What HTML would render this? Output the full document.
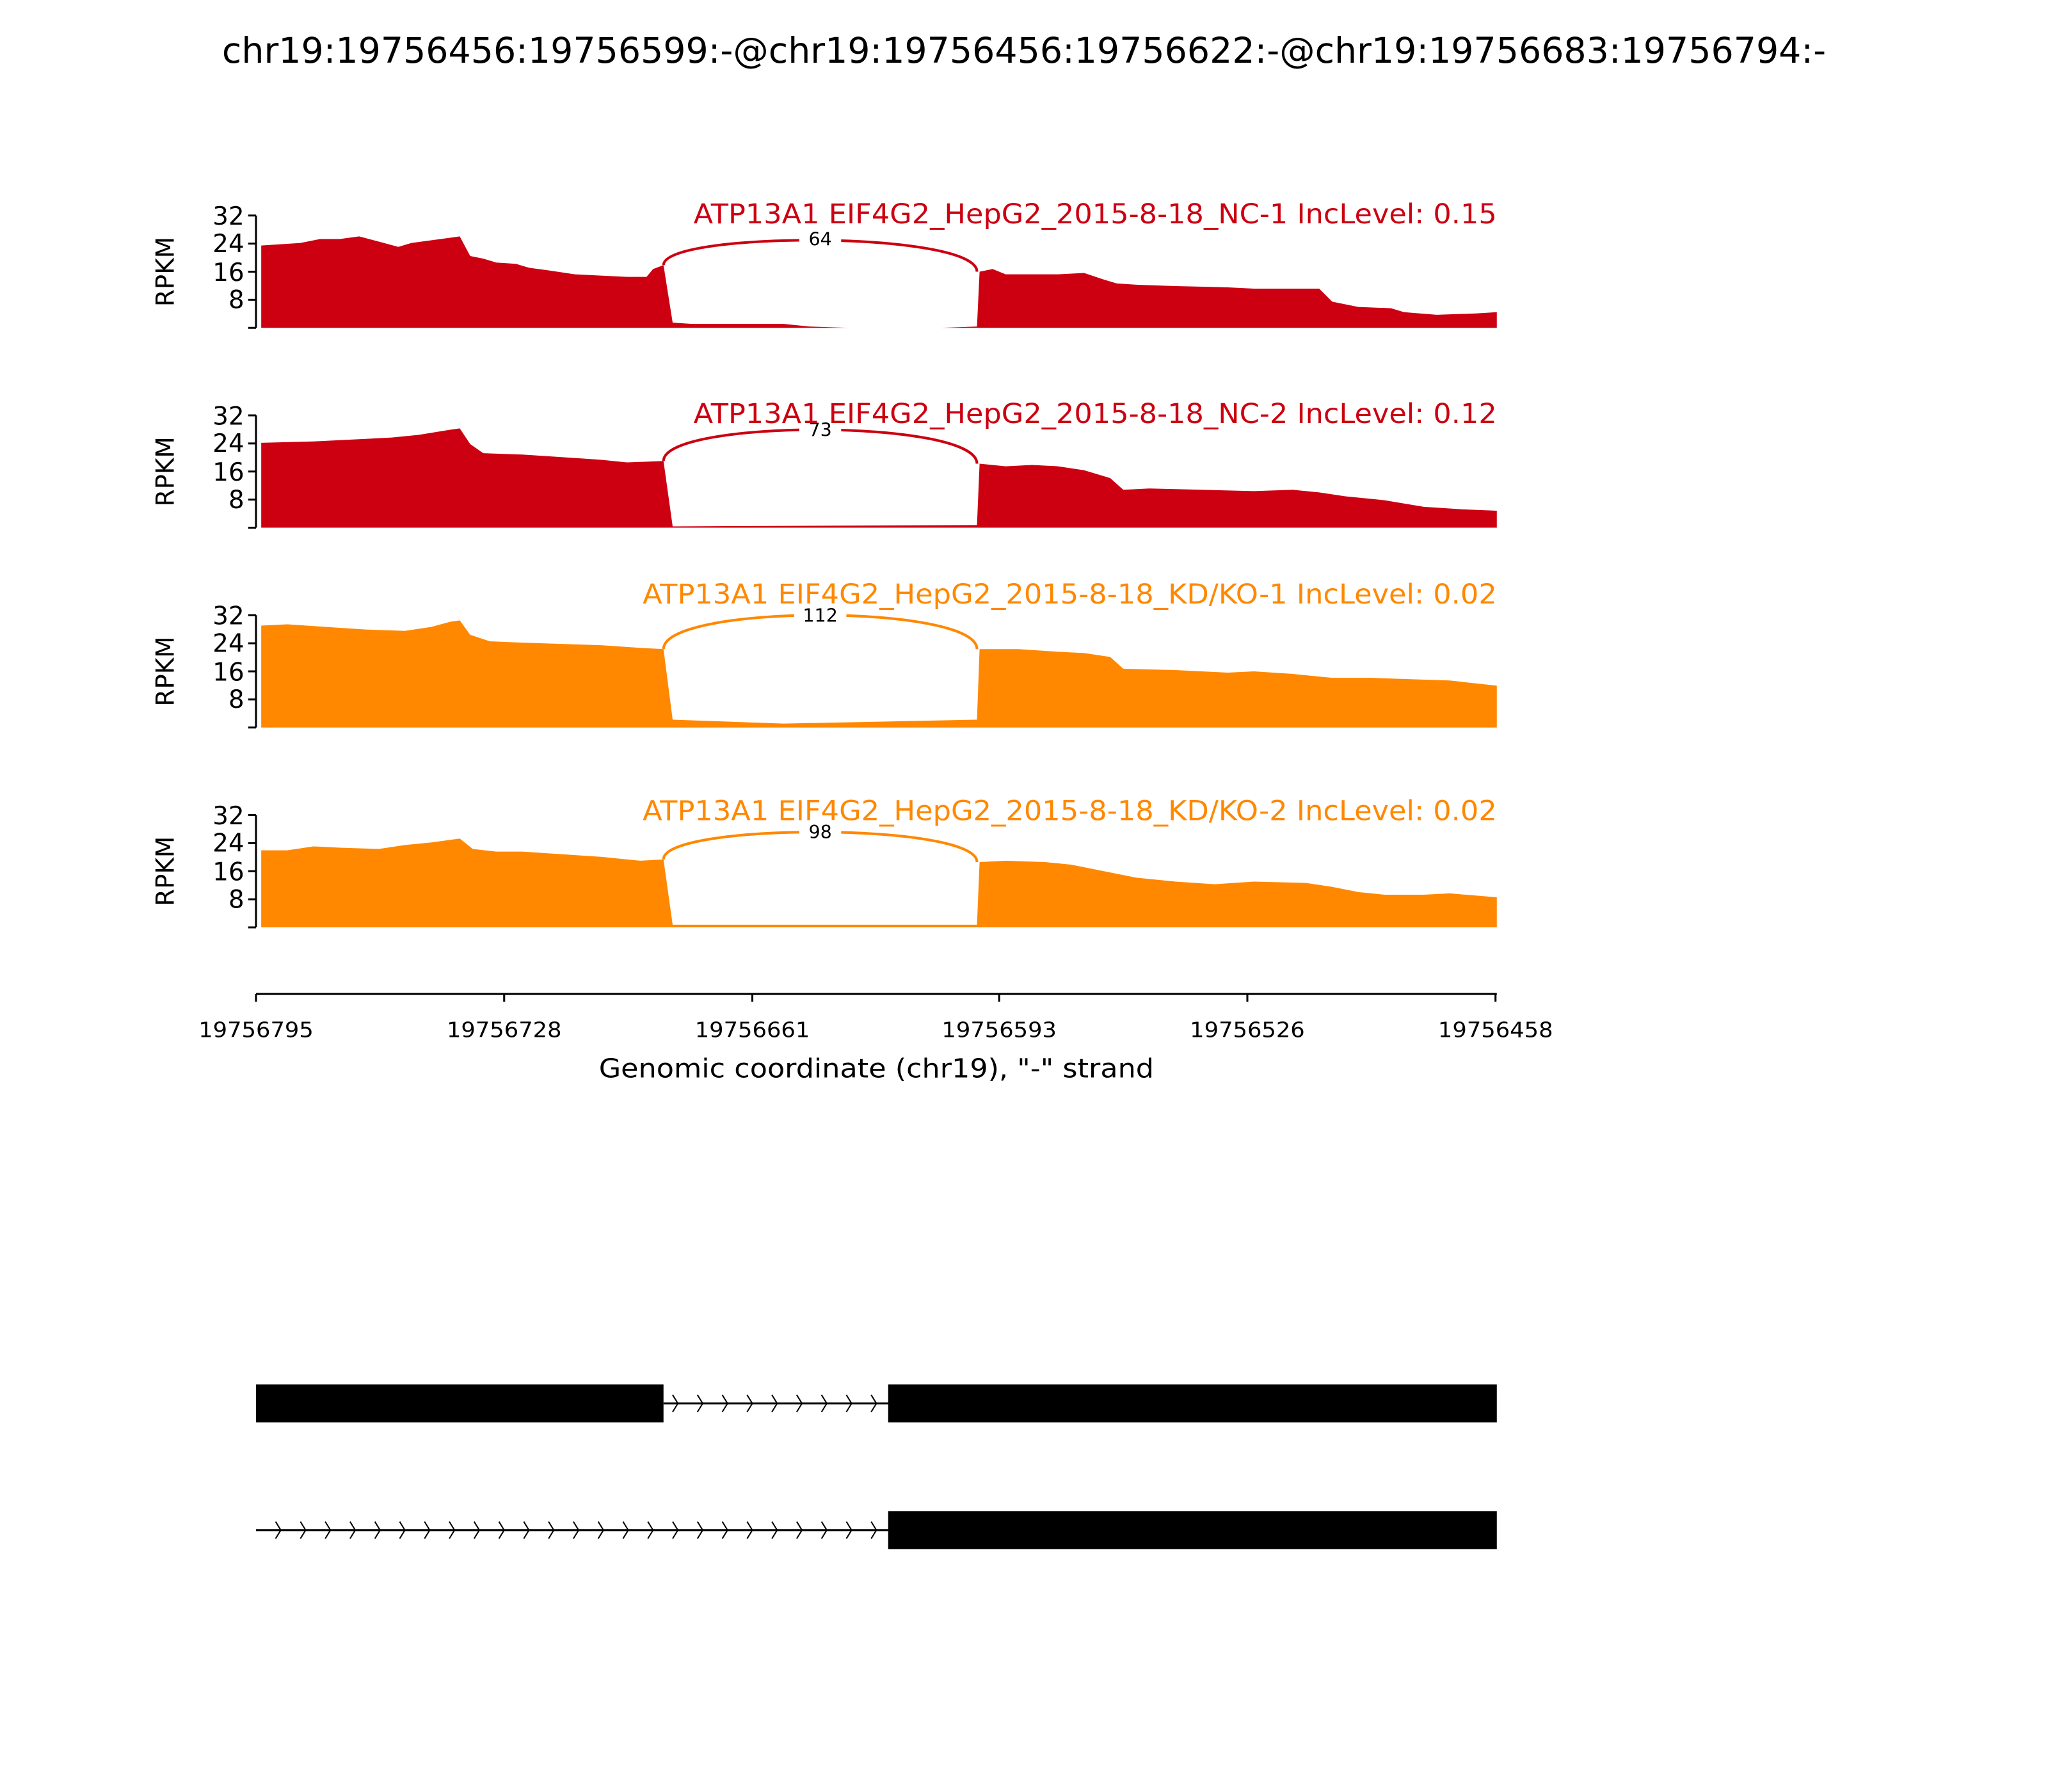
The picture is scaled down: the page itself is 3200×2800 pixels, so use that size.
<!DOCTYPE html>
<html><head><meta charset="utf-8"><style>body{margin:0;background:#fff}svg{display:block}text{font-family:"DejaVu Sans","Liberation Sans",sans-serif}</style></head>
<body>
<svg width="3200" height="2800" viewBox="0 0 1568 1372" xmlns="http://www.w3.org/2000/svg">
<rect width="1568" height="1372" fill="#fff"/>
<text x="784" y="48" font-size="27" text-anchor="middle" textLength="1228" lengthAdjust="spacingAndGlyphs">chr19:19756456:19756599:-@chr19:19756456:19756622:-@chr19:19756683:19756794:-</text>

<!-- Panel 1 -->
<g>
<polygon fill="#cc0011" points="200,251 200,188 215,187 230,186 245,183 260,183 275,181 290,185 305,189 315,186 330,184 345,182 352,181 360,196 370,198 380,201 395,202 405,205 420,207 440,210 460,211 480,212 495,212 500,206 508,203 515,247 530,248 600,248 620,250 650,251 720,251 748,250 750,208 760,206 770,210 790,210 810,210 830,209 845,214 855,217 870,218 900,219 940,220 960,221 980,221 1010,221 1020,231 1040,235 1065,236 1075,239 1100,241 1130,240 1146,239 1146,251"/>
<path d="M508,203 C508,176.8 748,176.8 748,208" fill="none" stroke="#cc0011" stroke-width="2"/>
<rect x="612" y="175" width="32" height="16" fill="#fff"/>
<text x="628" y="188" font-size="14" text-anchor="middle">64</text>
<text x="1146" y="171" font-size="21" fill="#cc0011" text-anchor="end" textLength="615" lengthAdjust="spacingAndGlyphs">ATP13A1 EIF4G2_HepG2_2015-8-18_NC-1 IncLevel: 0.15</text>
</g>
<!-- Panel 2 -->
<g>
<polygon fill="#cc0011" points="200,404 200,339 240,338 260,337 280,336 300,335 320,333 345,329 352,328 360,340 370,347 400,348 430,350 460,352 480,354 508,353 515,403 748,402 750,355 770,357 790,356 810,357 830,360 850,366 860,375 880,374 920,375 960,376 990,375 1010,377 1030,380 1060,383 1090,388 1120,390 1146,391 1146,404"/>
<path d="M508,353 C508,320.7 748,320.7 748,355" fill="none" stroke="#cc0011" stroke-width="2"/>
<rect x="612" y="321" width="32" height="16" fill="#fff"/>
<text x="628" y="334" font-size="14" text-anchor="middle">73</text>
<text x="1146" y="324" font-size="21" fill="#cc0011" text-anchor="end" textLength="615" lengthAdjust="spacingAndGlyphs">ATP13A1 EIF4G2_HepG2_2015-8-18_NC-2 IncLevel: 0.12</text>
</g>
<!-- Panel 3 -->
<g>
<polygon fill="#ff8800" points="200,557 200,479 220,478 250,480 280,482 310,483 330,480 345,476 352,475 360,486 375,491 400,492 430,493 460,494 490,496 508,497 515,551 600,554 748,551 750,497 780,497 810,499 830,500 850,503 860,512 900,513 940,515 960,514 990,516 1020,519 1050,519 1080,520 1110,521 1146,525 1146,557"/>
<path d="M508,497 C508,462.3 748,462.3 748,497" fill="none" stroke="#ff8800" stroke-width="2"/>
<rect x="608" y="463" width="40" height="16" fill="#fff"/>
<text x="628" y="476" font-size="14" text-anchor="middle">112</text>
<text x="1146" y="462" font-size="21" fill="#ff8800" text-anchor="end" textLength="654" lengthAdjust="spacingAndGlyphs">ATP13A1 EIF4G2_HepG2_2015-8-18_KD/KO-1 IncLevel: 0.02</text>
</g>
<!-- Panel 4 -->
<g>
<polygon fill="#ff8800" points="200,710 200,651 220,651 240,648 260,649 290,650 310,647 330,645 352,642 362,650 380,652 400,652 430,654 460,656 490,659 508,658 515,708 748,708 750,660 770,659 800,660 820,662 840,666 870,672 900,675 930,677 960,675 1000,676 1020,679 1040,683 1060,685 1090,685 1110,684 1146,687 1146,710"/>
<path d="M508,658 C508,629.7 748,629.7 748,660" fill="none" stroke="#ff8800" stroke-width="2"/>
<rect x="612" y="629" width="32" height="16" fill="#fff"/>
<text x="628" y="642" font-size="14" text-anchor="middle">98</text>
<text x="1146" y="628" font-size="21" fill="#ff8800" text-anchor="end" textLength="654" lengthAdjust="spacingAndGlyphs">ATP13A1 EIF4G2_HepG2_2015-8-18_KD/KO-2 IncLevel: 0.02</text>
</g>

<!-- y axes -->
<g stroke="#000" stroke-width="1.5" fill="none">
<path d="M196,165V251M190,165H196M190,186.5H196M190,208H196M190,229.5H196M190,251H196"/>
<path d="M196,318V404M190,318H196M190,339.5H196M190,361H196M190,382.5H196M190,404H196"/>
<path d="M196,471V557M190,471H196M190,492.5H196M190,514H196M190,535.5H196M190,557H196"/>
<path d="M196,624V710M190,624H196M190,645.5H196M190,667H196M190,688.5H196M190,710H196"/>
</g>
<g font-size="19" text-anchor="end">
<text x="187" y="172">32</text><text x="187" y="193">24</text><text x="187" y="215">16</text><text x="187" y="236">8</text>
<text x="187" y="325">32</text><text x="187" y="346">24</text><text x="187" y="368">16</text><text x="187" y="389">8</text>
<text x="187" y="478">32</text><text x="187" y="499">24</text><text x="187" y="521">16</text><text x="187" y="542">8</text>
<text x="187" y="631">32</text><text x="187" y="652">24</text><text x="187" y="674">16</text><text x="187" y="695">8</text>
</g>
<g font-size="19" text-anchor="middle">
<text transform="translate(133,208) rotate(-90)">RPKM</text>
<text transform="translate(133,361) rotate(-90)">RPKM</text>
<text transform="translate(133,514) rotate(-90)">RPKM</text>
<text transform="translate(133,667) rotate(-90)">RPKM</text>
</g>

<!-- x axis -->
<g stroke="#000" stroke-width="1.5">
<path d="M196,761H1146M196,761V767M386,761V767M576,761V767M765,761V767M955,761V767M1145,761V767"/>
</g>
<g font-size="16" text-anchor="middle">
<text x="196" y="794" textLength="88" lengthAdjust="spacingAndGlyphs">19756795</text><text x="386" y="794" textLength="88" lengthAdjust="spacingAndGlyphs">19756728</text><text x="576" y="794" textLength="88" lengthAdjust="spacingAndGlyphs">19756661</text>
<text x="765" y="794" textLength="88" lengthAdjust="spacingAndGlyphs">19756593</text><text x="955" y="794" textLength="88" lengthAdjust="spacingAndGlyphs">19756526</text><text x="1145" y="794" textLength="88" lengthAdjust="spacingAndGlyphs">19756458</text>
</g>
<text x="671" y="825" font-size="20" text-anchor="middle" textLength="425" lengthAdjust="spacingAndGlyphs">Genomic coordinate (chr19), "-" strand</text>

<!-- gene models -->
<rect x="196" y="1060" width="312" height="29" fill="#000"/>
<rect x="680" y="1060" width="466" height="29" fill="#000"/>
<line x1="508" y1="1074.5" x2="680" y2="1074.5" stroke="#000" stroke-width="1.5"/>
<g fill="none" stroke="#000" stroke-width="1">
<path d="M515,1068l4,6.5l-4,6.5M534,1068l4,6.5l-4,6.5M553,1068l4,6.5l-4,6.5M572,1068l4,6.5l-4,6.5M591,1068l4,6.5l-4,6.5M610,1068l4,6.5l-4,6.5M629,1068l4,6.5l-4,6.5M648,1068l4,6.5l-4,6.5M667,1068l4,6.5l-4,6.5"/>
</g>
<rect x="680" y="1157" width="466" height="29" fill="#000"/>
<line x1="196" y1="1171.5" x2="680" y2="1171.5" stroke="#000" stroke-width="1.5"/>
<g fill="none" stroke="#000" stroke-width="1">
<path d="M211,1165l4,6.5l-4,6.5M230,1165l4,6.5l-4,6.5M249,1165l4,6.5l-4,6.5M268,1165l4,6.5l-4,6.5M287,1165l4,6.5l-4,6.5M306,1165l4,6.5l-4,6.5M325,1165l4,6.5l-4,6.5M344,1165l4,6.5l-4,6.5M363,1165l4,6.5l-4,6.5M382,1165l4,6.5l-4,6.5M401,1165l4,6.5l-4,6.5M420,1165l4,6.5l-4,6.5M439,1165l4,6.5l-4,6.5M458,1165l4,6.5l-4,6.5M477,1165l4,6.5l-4,6.5M496,1165l4,6.5l-4,6.5M515,1165l4,6.5l-4,6.5M534,1165l4,6.5l-4,6.5M553,1165l4,6.5l-4,6.5M572,1165l4,6.5l-4,6.5M591,1165l4,6.5l-4,6.5M610,1165l4,6.5l-4,6.5M629,1165l4,6.5l-4,6.5M648,1165l4,6.5l-4,6.5M667,1165l4,6.5l-4,6.5"/>
</g>
</svg>
</body></html>
